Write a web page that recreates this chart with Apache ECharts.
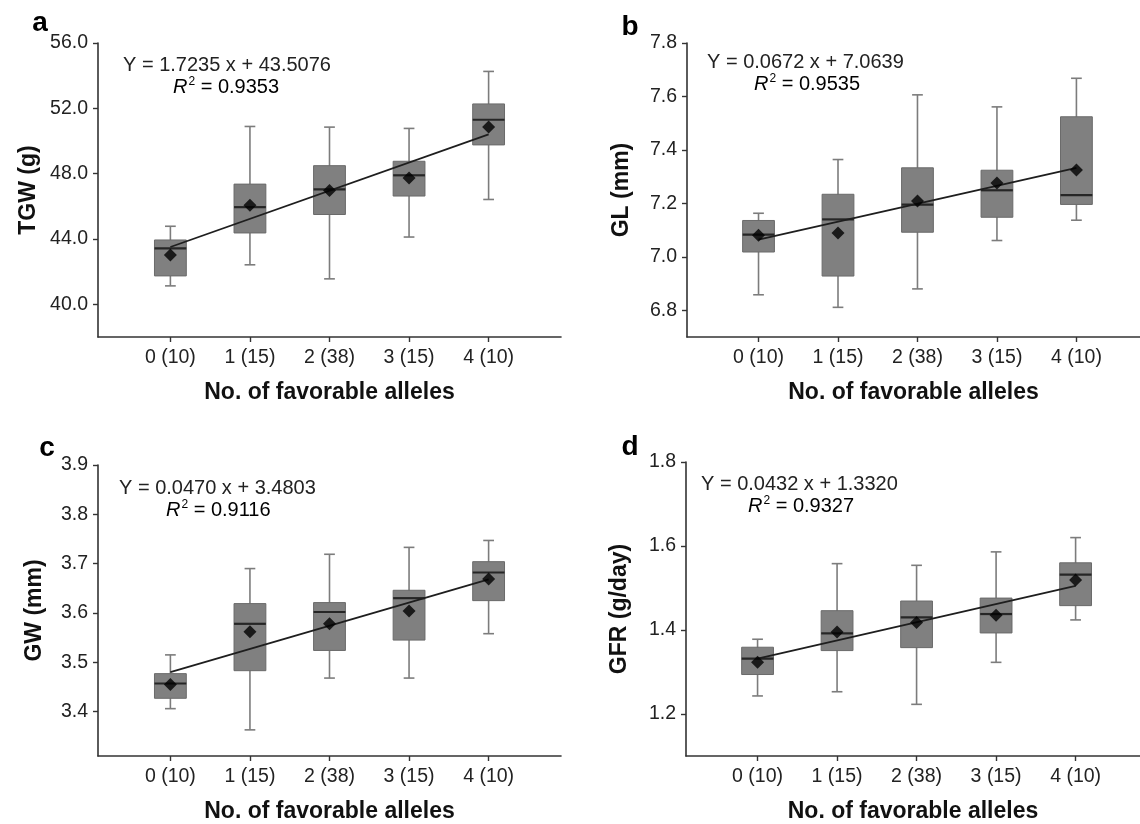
<!DOCTYPE html>
<html>
<head>
<meta charset="utf-8">
<script src="https://cdn.jsdelivr.net/npm/echarts@6/dist/echarts.min.js"></script>
<style>
  html, body { margin: 0; padding: 0; background: #fff; }
  #main { width: 1140px; height: 824px; }
</style>
</head>
<body>
<div id="main"></div>
<script>
var categories = ['0 (10)', '1 (15)', '2 (38)', '3 (15)', '4 (10)'];

// box values per group: [low whisker, Q1, median, Q3, high whisker]
var tgwBox = [[41.13, 41.74, 43.43, 43.94, 44.78], [42.42, 44.37, 45.95, 47.36, 50.89], [41.56, 45.50, 47.04, 48.49, 50.85], [44.12, 46.63, 47.90, 48.76, 50.77], [46.42, 49.76, 51.30, 52.27, 54.26]];
var tgwMean = [43.02, 46.07, 46.97, 47.73, 50.85];
var tgwFit = [43.51, 50.40];
var tgwTicks = [40, 44, 48, 52, 56];

var glBox = [[6.858, 7.018, 7.083, 7.136, 7.163], [6.811, 6.928, 7.140, 7.234, 7.364], [6.880, 7.092, 7.195, 7.333, 7.606], [7.061, 7.148, 7.249, 7.324, 7.561], [7.137, 7.196, 7.231, 7.524, 7.668]];
var glMean = [7.081, 7.089, 7.209, 7.276, 7.325];
var glFit = [7.064, 7.333];
var glTicks = [6.8, 7.0, 7.2, 7.4, 7.6, 7.8];

var gwBox = [[3.406, 3.427, 3.457, 3.477, 3.515], [3.363, 3.483, 3.578, 3.619, 3.690], [3.468, 3.524, 3.602, 3.621, 3.719], [3.468, 3.545, 3.630, 3.646, 3.733], [3.558, 3.625, 3.682, 3.704, 3.747]];
var gwMean = [3.455, 3.562, 3.578, 3.604, 3.669];
var gwFit = [3.480, 3.668];
var gwTicks = [3.4, 3.5, 3.6, 3.7, 3.8, 3.9];

var gfrBox = [[1.243, 1.294, 1.332, 1.359, 1.378], [1.253, 1.351, 1.392, 1.446, 1.558], [1.223, 1.358, 1.430, 1.469, 1.554], [1.323, 1.393, 1.438, 1.476, 1.586], [1.424, 1.458, 1.532, 1.560, 1.620]];
var gfrMean = [1.323, 1.395, 1.418, 1.435, 1.519];
var gfrFit = [1.332, 1.505];
var gfrTicks = [1.2, 1.4, 1.6, 1.8];

var FONT = '"Liberation Sans", Arial, sans-serif';

var panels = [
    { letter: 'a', yName: 'TGW (g)', box: tgwBox, mean: tgwMean, fit: tgwFit, ticks: tgwTicks,
      yMin: 38, yMax: 56, xMin: -0.91, xMax: 4.91, grid: { left: 98, top: 43, width: 463, height: 294 },
      nameGap: 58, eq: 'Y = 1.7235 x + 43.5076', r2: '0.9353',
      eqPos: [123, 65], r2Pos: [173, 87], letterPos: [40, 23] },
    { letter: 'b', yName: 'GL (mm)', box: glBox, mean: glMean, fit: glFit, ticks: glTicks,
      yMin: 6.7, yMax: 7.8, xMin: -0.9, xMax: 4.8, grid: { left: 687, top: 43, width: 453, height: 294 },
      nameGap: 54, eq: 'Y = 0.0672 x + 7.0639', r2: '0.9535',
      eqPos: [707, 62], r2Pos: [754, 84], letterPos: [630, 27] },
    { letter: 'c', yName: 'GW (mm)', box: gwBox, mean: gwMean, fit: gwFit, ticks: gwTicks,
      yMin: 3.31, yMax: 3.9, xMin: -0.91, xMax: 4.91, grid: { left: 98, top: 465, width: 463, height: 294 },
      nameGap: 52, eq: 'Y = 0.0470 x + 3.4803', r2: '0.9116',
      eqPos: [119, 488], r2Pos: [166, 510], letterPos: [47, 448] },
    { letter: 'd', yName: 'GFR (g/day)', box: gfrBox, mean: gfrMean, fit: gfrFit, ticks: gfrTicks,
      yMin: 1.1, yMax: 1.8, xMin: -0.9, xMax: 4.81, grid: { left: 686, top: 462, width: 454, height: 294 },
      nameGap: 55, eq: 'Y = 0.0432 x + 1.3320', r2: '0.9327',
      eqPos: [701, 484], r2Pos: [748, 506], letterPos: [630, 447] }
];

function renderBox(params, api) {
    var x = api.value(0);
    var lo = api.coord([x, api.value(1)]);
    var q1 = api.coord([x, api.value(2)]);
    var md = api.coord([x, api.value(3)]);
    var q3 = api.coord([x, api.value(4)]);
    var hi = api.coord([x, api.value(5)]);
    var w = api.size([0.4, 0])[0];
    var c = api.size([0.135, 0])[0];
    var cx = lo[0];
    var whisker = { stroke: '#7c7c7c', lineWidth: 1.6 };
    return {
        type: 'group',
        children: [
            { type: 'line', shape: { x1: cx, y1: lo[1], x2: cx, y2: hi[1] }, style: whisker },
            { type: 'line', shape: { x1: cx - c / 2, y1: lo[1], x2: cx + c / 2, y2: lo[1] }, style: whisker },
            { type: 'line', shape: { x1: cx - c / 2, y1: hi[1], x2: cx + c / 2, y2: hi[1] }, style: whisker },
            { type: 'rect', shape: { x: cx - w / 2, y: q3[1], width: w, height: q1[1] - q3[1] },
              style: { fill: '#808080', stroke: '#6a6a6a', lineWidth: 1 } },
            { type: 'line', shape: { x1: cx - w / 2, y1: md[1], x2: cx + w / 2, y2: md[1] },
              style: { stroke: '#262626', lineWidth: 2.2 } }
        ]
    };
}

var grids = [], xAxes = [], yAxes = [], series = [], graphics = [];

panels.forEach(function (p, i) {
    grids.push(p.grid);
    xAxes.push({
        type: 'value', gridIndex: i, min: p.xMin, max: p.xMax,
        name: 'No. of favorable alleles', nameLocation: 'middle', nameGap: 44,
        nameTextStyle: { fontFamily: FONT, fontWeight: 'bold', fontSize: 23, color: '#111' },
        splitLine: { show: false },
        axisLine: { onZero: false, lineStyle: { color: '#333', width: 1.6 } },
        axisTick: { length: 5, lineStyle: { color: '#333', width: 1.4 }, customValues: [0, 1, 2, 3, 4] },
        axisLabel: {
            customValues: [0, 1, 2, 3, 4], margin: 11,
            fontFamily: FONT, fontSize: 19.5, color: '#222',
            formatter: function (v) { return categories[Math.round(v)]; }
        }
    });
    yAxes.push({
        type: 'value', gridIndex: i, min: p.yMin, max: p.yMax,
        name: p.yName, nameLocation: 'middle', nameGap: p.nameGap, nameRotate: 90,
        nameTextStyle: { fontFamily: FONT, fontWeight: 'bold', fontSize: 23, color: '#111' },
        splitLine: { show: false },
        axisLine: { show: true, onZero: false, lineStyle: { color: '#333', width: 1.6 } },
        axisTick: { show: true, length: 5, lineStyle: { color: '#333', width: 1.4 }, customValues: p.ticks },
        axisLabel: {
            customValues: p.ticks, margin: 10,
            fontFamily: FONT, fontSize: 19.5, color: '#222',
            formatter: function (v) { return v.toFixed(1); }
        }
    });

    series.push({
        type: 'custom', xAxisIndex: i, yAxisIndex: i,
        renderItem: renderBox,
        encode: { x: 0, y: [1, 2, 3, 4, 5] },
        data: p.box.map(function (b, k) { return [k].concat(b); }),
        z: 2
    });
    series.push({
        type: 'line', xAxisIndex: i, yAxisIndex: i,
        data: [[0, p.fit[0]], [4, p.fit[1]]],
        symbol: 'none', lineStyle: { color: '#1e1e1e', width: 1.8 },
        z: 3, silent: true
    });
    series.push({
        type: 'scatter', xAxisIndex: i, yAxisIndex: i,
        data: p.mean.map(function (m, k) { return [k, m]; }),
        symbol: 'diamond', symbolSize: [13, 13],
        itemStyle: { color: '#000' },
        z: 4
    });

    graphics.push({
        type: 'text', x: p.letterPos[0], y: p.letterPos[1],
        style: { text: p.letter, font: 'bold 28px ' + FONT, fill: '#000', align: 'center', verticalAlign: 'middle' }
    });
    graphics.push({
        type: 'text', x: p.eqPos[0], y: p.eqPos[1],
        style: { text: p.eq, font: '20px ' + FONT, fill: '#222', verticalAlign: 'middle' }
    });
    graphics.push({
        type: 'text', x: p.r2Pos[0], y: p.r2Pos[1],
        style: {
            text: '{i|R}{s|2}{n| = ' + p.r2 + '}',
            verticalAlign: 'middle',
            rich: {
                i: { fontFamily: FONT, fontSize: 20, fontStyle: 'italic', color: '#222', lineHeight: 22 },
                s: { fontFamily: FONT, fontSize: 12, color: '#222', verticalAlign: 'top', lineHeight: 22, padding: [0, 0, 8, 1] },
                n: { fontFamily: FONT, fontSize: 20, color: '#222', lineHeight: 22 }
            }
        }
    });
});

var chart = echarts.init(document.getElementById('main'));
chart.setOption({
    backgroundColor: '#fff',
    animation: false,
    grid: grids,
    xAxis: xAxes,
    yAxis: yAxes,
    series: series,
    graphic: graphics
});
</script>
</body>
</html>
